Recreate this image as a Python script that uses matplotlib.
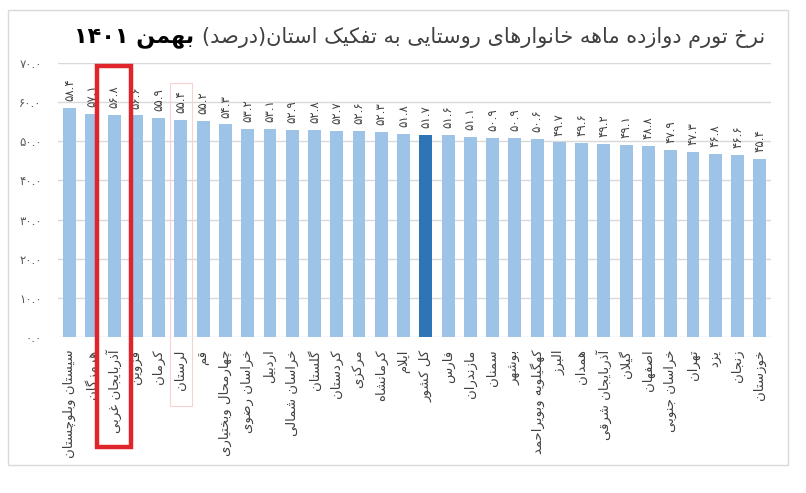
import matplotlib
matplotlib.use("Agg")
import matplotlib.pyplot as plt
from matplotlib.patches import Rectangle

# data
provinces = ["سیستان وبلوچستان", "هرمزگان", "آذربایجان غربی", "قزوین", "کرمان",
             "لرستان", "قم", "چهارمحال وبختیاری", "خراسان رضوی", "اردبیل",
             "خراسان شمالی", "گلستان", "کردستان", "مرکزی", "کرمانشاه", "ایلام",
             "کل کشور", "فارس", "مازندران", "سمنان", "بوشهر", "کهگیلویه وبویراحمد",
             "البرز", "همدان", "آذربایجان شرقی", "گیلان", "اصفهان", "خراسان جنوبی",
             "تهران", "یزد", "زنجان", "خوزستان"]
inflation = [58.4, 57.1, 56.8, 56.6, 55.9, 55.4, 55.2, 54.3, 53.2, 53.1,
             52.9, 52.8, 52.7, 52.6, 52.3, 51.8, 51.7, 51.6, 51.1, 50.9,
             50.9, 50.6, 49.7, 49.6, 49.2, 49.1, 48.8, 47.9, 47.3, 46.8,
             46.6, 45.4]
y_ticks = [0, 10, 20, 30, 40, 50, 60, 70]
title_text = "نرخ تورم دوازده ماهه خانوارهای روستایی به تفکیک استان(درصد)"
title_bold = "بهمن ۱۴۰۱"
national = "کل کشور"
highlight = "آذربایجان غربی"
outlined = "لرستان"

# presentation forms: isolated, final, initial, medial
FORMS = {
    "ا": ("\uFE8D", "\uFE8E", None, None), "آ": ("\uFE81", "\uFE82", None, None),
    "ب": ("\uFE8F", "\uFE90", "\uFE91", "\uFE92"), "پ": ("\uFB56", "\uFB57", "\uFB58", "\uFB59"),
    "ت": ("\uFE95", "\uFE96", "\uFE97", "\uFE98"), "ث": ("\uFE99", "\uFE9A", "\uFE9B", "\uFE9C"),
    "ج": ("\uFE9D", "\uFE9E", "\uFE9F", "\uFEA0"), "چ": ("\uFB7A", "\uFB7B", "\uFB7C", "\uFB7D"),
    "ح": ("\uFEA1", "\uFEA2", "\uFEA3", "\uFEA4"), "خ": ("\uFEA5", "\uFEA6", "\uFEA7", "\uFEA8"),
    "د": ("\uFEA9", "\uFEAA", None, None), "ذ": ("\uFEAB", "\uFEAC", None, None),
    "ر": ("\uFEAD", "\uFEAE", None, None), "ز": ("\uFEAF", "\uFEB0", None, None),
    "ژ": ("\uFB8A", "\uFB8B", None, None),
    "س": ("\uFEB1", "\uFEB2", "\uFEB3", "\uFEB4"), "ش": ("\uFEB5", "\uFEB6", "\uFEB7", "\uFEB8"),
    "ص": ("\uFEB9", "\uFEBA", "\uFEBB", "\uFEBC"), "ض": ("\uFEBD", "\uFEBE", "\uFEBF", "\uFEC0"),
    "ط": ("\uFEC1", "\uFEC2", "\uFEC3", "\uFEC4"), "ظ": ("\uFEC5", "\uFEC6", "\uFEC7", "\uFEC8"),
    "ع": ("\uFEC9", "\uFECA", "\uFECB", "\uFECC"), "غ": ("\uFECD", "\uFECE", "\uFECF", "\uFED0"),
    "ف": ("\uFED1", "\uFED2", "\uFED3", "\uFED4"), "ق": ("\uFED5", "\uFED6", "\uFED7", "\uFED8"),
    "ک": ("\uFB8E", "\uFB8F", "\uFB90", "\uFB91"), "گ": ("\uFB92", "\uFB93", "\uFB94", "\uFB95"),
    "ل": ("\uFEDD", "\uFEDE", "\uFEDF", "\uFEE0"), "م": ("\uFEE1", "\uFEE2", "\uFEE3", "\uFEE4"),
    "ن": ("\uFEE5", "\uFEE6", "\uFEE7", "\uFEE8"), "و": ("\uFEED", "\uFEEE", None, None),
    "ه": ("\uFEE9", "\uFEEA", "\uFEEB", "\uFEEC"), "ی": ("\uFBFC", "\uFBFD", "\uFBFE", "\uFBFF"),
}
FA_DIGITS = "۰۱۲۳۴۵۶۷۸۹"


def joins_left(c):
    return c in FORMS and FORMS[c][2] is not None


def shape(s):
    # pick joined letter forms since matplotlib does not shape arabic script
    out = []
    i = 0
    while i < len(s):
        c = s[i]
        prev = s[i - 1] if i > 0 else None
        nxt = s[i + 1] if i + 1 < len(s) else None
        jp = joins_left(prev) if prev else False
        if c == "ل" and nxt == "ا":
            out.append("\uFEFC" if jp else "\uFEFB")
            i += 2
            continue
        if c not in FORMS:
            out.append(c)
            i += 1
            continue
        iso, fin, ini, med = FORMS[c]
        jn = ini is not None and nxt in FORMS
        if jp and jn:
            out.append(med)
        elif jp:
            out.append(fin)
        elif jn:
            out.append(ini)
        else:
            out.append(iso)
        i += 1
    return "".join(out)


def rtl(s):
    # shape, reverse into visual order, keep number runs left to right
    v = shape(s)[::-1]
    v = v.translate(str.maketrans("()", ")("))
    res = []
    run = ""
    for c in v:
        if c in FA_DIGITS or c.isdigit() or (c == "." and run):
            run += c
        else:
            if run:
                res.append(run[::-1])
                run = ""
            res.append(c)
    if run:
        res.append(run[::-1])
    return "".join(res)


def fa_num(x):
    return "".join(FA_DIGITS[int(c)] if c.isdigit() else c for c in "%.1f" % x)


plt.rcParams["font.family"] = ["DejaVu Sans"]

fig = plt.figure(figsize=(8.06, 4.93), dpi=100)
ax = fig.add_axes([0.0725, 0.3164, 0.884, 0.5558])

x_pos = list(range(len(provinces)))
colors = ["#2E75B6" if p == national else "#9DC3E6" for p in provinces]
bars = ax.bar(x_pos, inflation, width=0.58, color=colors, zorder=2)

for i, v in enumerate(inflation):
    ax.annotate(fa_num(v), (i, v), xytext=(0, 5), textcoords="offset points",
                rotation=90, ha="center", va="bottom", fontsize=8.5, color="#404040")

ax.set_xlim(-0.5, len(provinces) - 0.5)
ax.set_ylim(0, 70)
ax.set_yticks(y_ticks)
ax.set_yticklabels([fa_num(t) for t in y_ticks], fontsize=8.5, color="#595959")
ax.set_xticks(x_pos)
ax.set_xticklabels([rtl(p) for p in provinces], rotation=90, ha="center", va="top",
                   fontsize=9.5, color="#404040")
ax.tick_params(axis="both", length=0)
ax.tick_params(axis="y", pad=12)
ax.tick_params(axis="x", pad=9)
ax.yaxis.grid(True, color="#D9D9D9", linewidth=1, zorder=0)
ax.set_axisbelow(True)
for s in ax.spines.values():
    s.set_visible(False)

# boxes drawn on the original picture
hx = provinces.index(highlight)
ax.add_patch(Rectangle((hx - 0.76, -0.40), 1.52, 1.39, transform=ax.get_xaxis_transform(),
                       fill=False, edgecolor="#E0242B", linewidth=3.2, clip_on=False, zorder=5))
ox = provinces.index(outlined)
ax.add_patch(Rectangle((ox - 0.5, -0.252), 1.0, 1.18, transform=ax.get_xaxis_transform(),
                       fill=False, edgecolor="#F6D3D0", linewidth=0.8, clip_on=False, zorder=1))

# light frame round the whole chart
fig.patches.append(Rectangle((0.0099, 0.0568), 0.9677, 0.923, transform=fig.transFigure,
                             fill=False, edgecolor="#D9D9D9", linewidth=1))

t1 = fig.text(765 / 806, 1 - 38 / 493, rtl(title_text), ha="right", va="center",
              fontsize=15, color="#404040")
fig.canvas.draw()
bb = t1.get_window_extent(fig.canvas.get_renderer())
fig.text((bb.x0 - 8) / 806, 1 - 38 / 493, rtl(title_bold), ha="right", va="center",
         fontsize=16, fontweight="bold", color="black")

fig.savefig("out.png", dpi=100)
